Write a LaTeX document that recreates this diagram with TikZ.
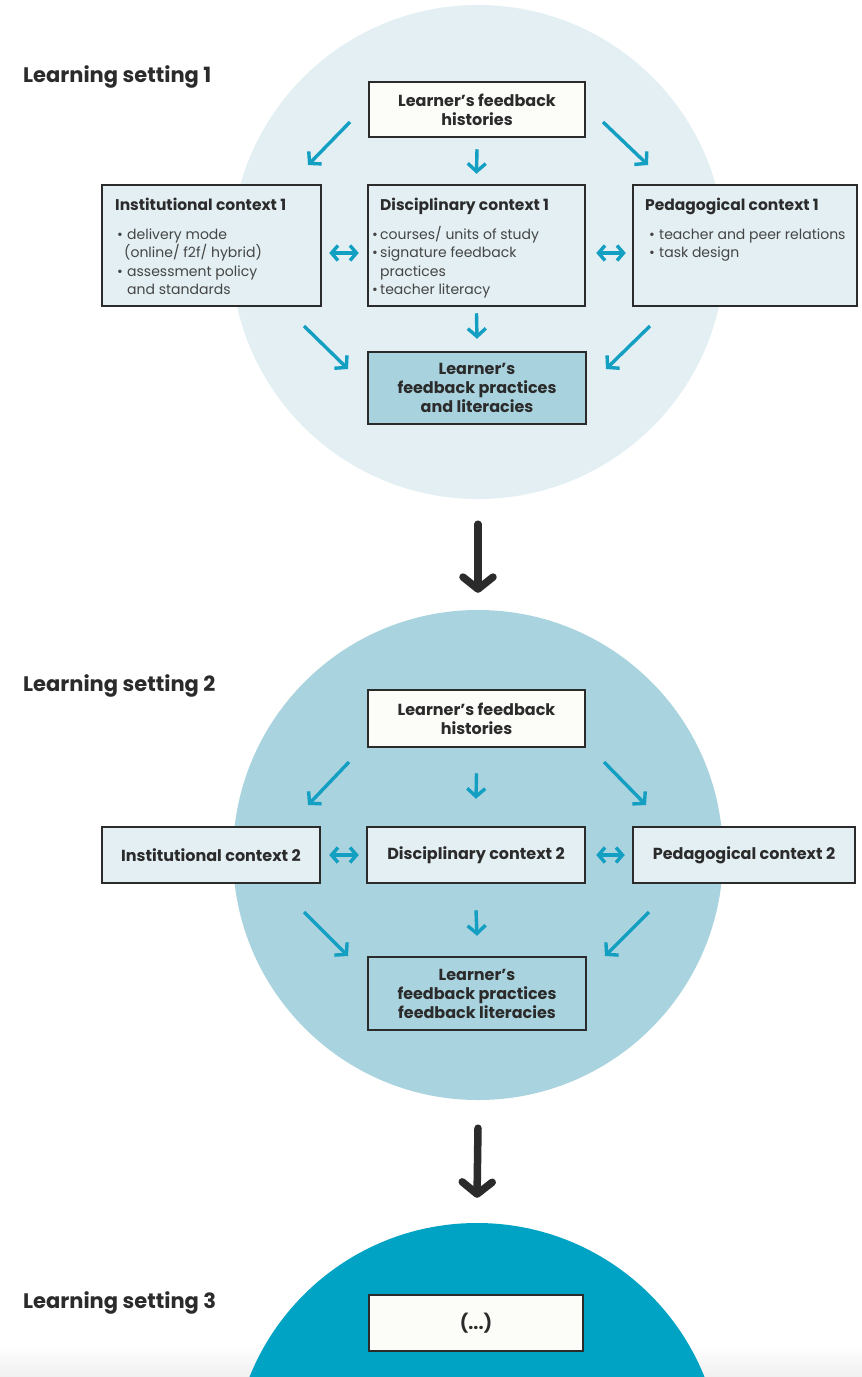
\documentclass[tikz,border=0pt]{standalone}
\usepackage{fontspec}
\setmainfont{Poppins}
\usetikzlibrary{arrows.meta}
\definecolor{cone}{HTML}{E3EFF3}
\definecolor{ctwo}{HTML}{A9D3DE}
\definecolor{cthree}{HTML}{00A3C4}
\definecolor{boxlight}{HTML}{E3EFF3}
\definecolor{boxwhite}{HTML}{FCFCF9}
\definecolor{boxmid}{HTML}{A8D2DD}
\definecolor{ink}{HTML}{2B2B2B}
\definecolor{bodyink}{HTML}{454545}
\definecolor{tealarrow}{HTML}{139FC2}
\begin{document}
\begin{tikzpicture}[x=1pt,y=-1pt,
  frame/.style={draw=ink, line width=2.5pt, inner sep=0pt, text=ink,
    font=\fontsize{16}{19}\selectfont\bfseries, align=center},
  hd/.style={font=\fontsize{15.5}{19}\selectfont\bfseries, text=ink, anchor=base west, inner sep=0pt},
  lbl/.style={font=\fontsize{21}{24}\selectfont\bfseries, text=ink, anchor=base west, inner sep=0pt},
  bul/.style={font=\fontsize{14}{18}\selectfont, text=bodyink, anchor=base west, inner sep=0pt},
  setcircle/.style={circle, inner sep=0pt, draw=none},
  tarr/.style={draw=tealarrow, line width=3.4pt, -{Straight Barb[length=8pt,width=18pt]}},
  darr/.style={draw=tealarrow, line width=3.4pt,
    {Straight Barb[length=6.5pt,width=15pt]}-{Straight Barb[length=6.5pt,width=15pt]}},
  barr/.style={draw=ink, line width=7.5pt, line cap=round,
    -{Straight Barb[round,length=12pt,width=30pt]}},
]
\useasboundingbox (0,0) rectangle (862,1377);
\clip (0,0) rectangle (862,1377);
\fill[white] (0,0) rectangle (862,1377);
\shade[top color=white, bottom color=black!6] (0,1345) rectangle (862,1377);

% ---------- circles ----------
\node[setcircle, fill=cone, minimum size=494pt] (s1) at (478,252) {};
\node[setcircle, fill=ctwo, minimum size=490pt] (s2) at (478,855) {};
\node[setcircle, fill=cthree, minimum size=490pt] (s3) at (477,1468) {};

% ---------- Setting 1 ----------
\node[lbl] (l1) at (23,82) {Learning setting 1};
\node[frame, fill=boxwhite, minimum width=216pt, minimum height=55pt] (hist1) at (477,109.5)
  {Learner’s feedback\\histories};
\node[frame, fill=boxlight, minimum width=219pt, minimum height=121pt] (inst1) at (211.5,245.5) {};
\node[frame, fill=boxlight, minimum width=217pt, minimum height=121pt] (disc1) at (476.5,245.5) {};
\node[frame, fill=boxlight, minimum width=224pt, minimum height=121pt] (ped1) at (745,245.5) {};
\node[frame, fill=boxmid, minimum width=218pt, minimum height=72pt] (out1) at (477,388)
  {Learner’s\\feedback practices\\and literacies};

\node[hd] (i1h) at (115,210) {Institutional context 1};
\node[bul] (i1a) at (117,239) {\makebox[10pt][l]{•}delivery mode};
\node[bul] (i1b) at (117,257.5) {\hspace*{7pt}(online/ f2f/ hybrid)};
\node[bul] (i1c) at (117,276) {\makebox[10pt][l]{•}assessment policy};
\node[bul] (i1d) at (117,294.5) {\hspace*{10pt}and standards};

\node[hd] (d1h) at (380,210) {Disciplinary context 1};
\node[bul] (d1a) at (372,239) {\makebox[8pt][l]{•}courses/ units of study};
\node[bul] (d1b) at (372,257.5) {\makebox[8pt][l]{•}signature feedback};
\node[bul] (d1c) at (372,276) {\hspace*{8pt}practices};
\node[bul] (d1d) at (372,294.5) {\makebox[8pt][l]{•}teacher literacy};

\node[hd] (p1h) at (645,210) {Pedagogical context 1};
\node[bul] (p1a) at (649,239) {\makebox[10pt][l]{•}teacher and peer relations};
\node[bul] (p1b) at (649,257.5) {\makebox[10pt][l]{•}task design};

\coordinate (a1s) at (350,122); \coordinate (a1e) at (308,165);
\coordinate (c1s) at (603,122); \coordinate (c1e) at (648,165);
\coordinate (f1s) at (304,326); \coordinate (f1e) at (348,369);
\coordinate (h1s) at (650,326); \coordinate (h1e) at (606,369);
\draw[tarr] (a1s) -- (a1e);
\draw[tarr] (c1s) -- (c1e);
\draw[tarr] ([yshift=-11pt]hist1.south) -- ([yshift=10pt]disc1.north);
\draw[darr] ([shift={(7pt,-7.5pt)}]inst1.east) -- ([shift={(-8pt,-7.5pt)}]disc1.west);
\draw[darr] ([shift={(10pt,-7.5pt)}]disc1.east) -- ([shift={(-6pt,-7.5pt)}]ped1.west);
\draw[tarr] (f1s) -- (f1e);
\draw[tarr] ([yshift=-6pt]disc1.south) -- ([yshift=12pt]out1.north);
\draw[tarr] (h1s) -- (h1e);

\draw[barr] ([yshift=-25pt]s1.south) -- ([yshift=17pt]s2.north);

% ---------- Setting 2 ----------
\node[lbl] (l2) at (23,691) {Learning setting 2};
\node[frame, fill=boxwhite, minimum width=217pt, minimum height=57pt] (hist2) at (476.5,718.5)
  {Learner’s feedback\\histories};
\node[frame, fill=boxlight, minimum width=218pt, minimum height=56pt] (inst2) at (211,855)
  {Institutional context 2};
\node[frame, fill=boxlight, minimum width=218pt, minimum height=56pt] (disc2) at (476,855)
  {Disciplinary context 2};
\node[frame, fill=boxlight, minimum width=222pt, minimum height=56pt] (ped2) at (744,855)
  {Pedagogical context 2};
\node[frame, minimum width=218pt, minimum height=73pt] (out2) at (477,993.5)
  {Learner’s\\feedback practices\\feedback literacies};

\coordinate (a2s) at (349,762); \coordinate (a2e) at (308,805);
\coordinate (c2s) at (604,762); \coordinate (c2e) at (646,805);
\coordinate (f2s) at (304,912); \coordinate (f2e) at (348,956);
\coordinate (h2s) at (649,912); \coordinate (h2e) at (605,956);
\draw[tarr] (a2s) -- (a2e);
\draw[tarr] (c2s) -- (c2e);
\draw[tarr] ([yshift=-25pt]hist2.south) -- ([yshift=27pt]disc2.north);
\draw[darr] ([xshift=8pt]inst2.east) -- ([xshift=-7pt]disc2.west);
\draw[darr] ([xshift=10pt]disc2.east) -- ([xshift=-7pt]ped2.west);
\draw[tarr] (f2s) -- (f2e);
\draw[tarr] ([yshift=-26pt]disc2.south) -- ([yshift=20pt]out2.north);
\draw[tarr] (h2s) -- (h2e);

\draw[barr] ([yshift=-28pt]s2.south) -- ([yshift=25pt]s3.north);

% ---------- Setting 3 ----------
\node[lbl] (l3) at (23,1308) {Learning setting 3};
\node[frame, fill=boxwhite, minimum width=214pt, minimum height=56pt,
  font=\fontsize{18}{21}\selectfont\bfseries] (hist3) at (476,1323) {(...)};
\end{tikzpicture}
\end{document}
